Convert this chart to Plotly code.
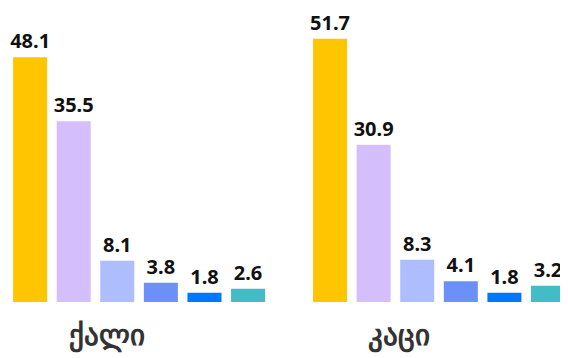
"""Grouped bar chart: share by gender (ქალი / კაცი)."""
import plotly.graph_objects as go

groups = ["ქალი", "კაცი"]
group_pos = [0, 1]
tick_pos = [-0.107, 0.866]
female = [48.1, 35.5, 8.1, 3.8, 1.8, 2.6]
male = [51.7, 30.9, 8.3, 4.1, 1.8, 3.2]
colors = ["#FFC500", "#D5BEFC", "#ADBDFE", "#6D8FF8", "#0077FF", "#44BCC5"]

fig = go.Figure()
for i, color in enumerate(colors):
    vals = [female[i], male[i]]
    fig.add_trace(go.Bar(
        x=group_pos, y=vals,
        marker_color=color, marker_line_width=0,
        text=[f"{v:.1f}" for v in vals],
        textposition="outside", cliponaxis=False, constraintext="none",
        textfont=dict(family="Noto Sans", size=20, color="#111111", weight="bold"),
        showlegend=False, hoverinfo="skip",
    ))

# page body has an 8px margin, so the figure is 8px smaller than the window
fig.update_layout(
    width=560, height=350,
    margin=dict(l=0, r=0, t=0, b=56),
    barmode="group", bargap=0.128, bargroupgap=0.22,
    plot_bgcolor="white", paper_bgcolor="white",
)
fig.update_xaxes(
    range=[-0.437, 1.43], showgrid=False, zeroline=False, showline=False,
    tickmode="array", tickvals=tick_pos, ticktext=groups, ticks="",
    ticklabelstandoff=13,
    tickfont=dict(family="Noto Sans", size=29, color="#333333", weight="bold"),
)
fig.update_yaxes(range=[0, 57.76], visible=False)

fig.write_html("out.html")
